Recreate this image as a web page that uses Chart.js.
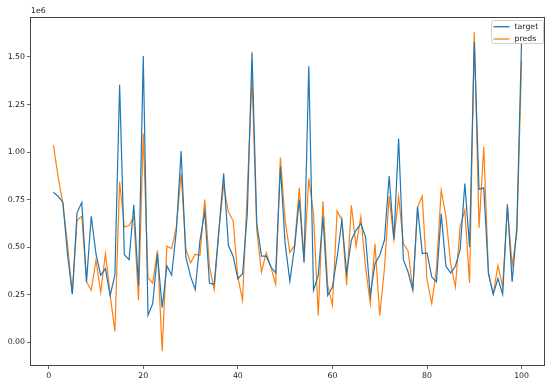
<!DOCTYPE html>
<html lang="en">
  <head>
    <meta charset="UTF-8" />
    <title>target vs preds</title>
    <style>
      body { margin: 0; background: #fff; }
    </style>
  </head>
  <body>
    <canvas id="myChart" width="554" height="388"></canvas>

    <script src="https://cdn.jsdelivr.net/npm/chart.js@4/dist/chart.umd.min.js"></script>
    <script>
      const steps = [
        1, 2, 3, 4, 5, 6, 7, 8, 9, 10, 11, 12, 13, 14, 15, 16, 17, 18, 19, 20,
        21, 22, 23, 24, 25, 26, 27, 28, 29, 30, 31, 32, 33, 34, 35, 36, 37, 38, 39, 40,
        41, 42, 43, 44, 45, 46, 47, 48, 49, 50, 51, 52, 53, 54, 55, 56, 57, 58, 59, 60,
        61, 62, 63, 64, 65, 66, 67, 68, 69, 70, 71, 72, 73, 74, 75, 76, 77, 78, 79, 80,
        81, 82, 83, 84, 85, 86, 87, 88, 89, 90, 91, 92, 93, 94, 95, 96, 97, 98, 99, 100
      ];

      const target = [
        789000, 768000, 737000, 460000, 253000, 681000, 735000, 318000, 663000, 467000,
        353000, 388000, 247000, 353000, 1354000, 461000, 435000, 723000, 300000, 1505000,
        142000, 204000, 467000, 182000, 402000, 353000, 589000, 1005000, 449000, 347000,
        277000, 537000, 689000, 312000, 305000, 590000, 888000, 510000, 453000, 335000,
        361000, 677000, 1525000, 625000, 453000, 453000, 396000, 365000, 923000, 519000,
        321000, 502000, 751000, 419000, 1451000, 274000, 353000, 660000, 247000, 291000,
        449000, 642000, 365000, 537000, 589000, 625000, 554000, 247000, 414000, 458000,
        537000, 874000, 540000, 1072000, 435000, 370000, 274000, 712000, 467000, 470000,
        344000, 318000, 677000, 400000, 365000, 400000, 488000, 835000, 502000, 1580000,
        804000, 812000, 361000, 253000, 335000, 253000, 726000, 318000, 607000, 1593000
      ];

      const preds = [
        1037000, 870000, 730000, 510000, 256000, 642000, 663000, 318000, 274000, 432000,
        263000, 467000, 250000, 58000, 844000, 607000, 614000, 660000, 221000, 1098000,
        340000, 312000, 484000, -46000, 505000, 493000, 607000, 888000, 493000, 418000,
        463000, 458000, 751000, 400000, 277000, 590000, 826000, 686000, 639000, 344000,
        221000, 800000, 1393000, 589000, 370000, 472000, 396000, 304000, 972000, 642000,
        472000, 510000, 812000, 428000, 861000, 677000, 142000, 742000, 300000, 195000,
        691000, 642000, 300000, 721000, 505000, 660000, 396000, 204000, 519000, 142000,
        388000, 768000, 540000, 768000, 519000, 481000, 274000, 712000, 768000, 330000,
        204000, 388000, 800000, 663000, 414000, 291000, 607000, 695000, 312000, 1630000,
        602000, 1028000, 361000, 253000, 405000, 291000, 712000, 405000, 572000, 1480000
      ];

      const xTicks = [0, 20, 40, 60, 80, 100];
      const yTicks = [0, 250000, 500000, 750000, 1000000, 1250000, 1500000];

      const FONT = "DejaVu Sans";
      const TEXT = "#222";
      const FSIZE = 7.8;

      // box around the plot, the 1e6 offset text and the legend
      const framePlugin = {
        id: "frame",
        afterDraw(chart) {
          const ctx = chart.ctx;
          const a = chart.chartArea;
          ctx.save();
          ctx.strokeStyle = "#444";
          ctx.lineWidth = 1;
          ctx.strokeRect(a.left + 0.5, a.top + 0.5, a.right - a.left - 1, a.bottom - a.top - 1);

          ctx.fillStyle = TEXT;
          ctx.font = FSIZE + "px " + FONT;
          ctx.textAlign = "left";
          ctx.textBaseline = "bottom";
          ctx.fillText("1e6", a.left + 1, a.top - 2);

          // legend
          const sets = chart.data.datasets;
          const boxW = 52, boxH = 23;
          const bx = a.right - 2 - boxW, by = a.top + 3;
          ctx.beginPath();
          ctx.roundRect(bx + 0.5, by + 0.5, boxW, boxH, 2);
          ctx.fillStyle = "rgba(255,255,255,0.8)";
          ctx.fill();
          ctx.strokeStyle = "#d0d0d0";
          ctx.lineWidth = 1;
          ctx.stroke();
          ctx.textBaseline = "middle";
          sets.forEach((ds, i) => {
            const y = by + 6.7 + i * 12.3;
            ctx.strokeStyle = ds.borderColor;
            ctx.lineWidth = 1.3;
            ctx.beginPath();
            ctx.moveTo(bx + 2.5, y);
            ctx.lineTo(bx + 18.5, y);
            ctx.stroke();
            ctx.fillStyle = TEXT;
            ctx.fillText(ds.label, bx + 23.5, y);
          });
          ctx.restore();
        }
      };

      const ctx = document.getElementById("myChart").getContext("2d");
      const chart = new Chart(ctx, {
        type: "line",
        data: {
          datasets: [
            {
              label: "target",
              borderColor: "#1f77b4",
              backgroundColor: "#1f77b4",
              borderWidth: 1.2,
              pointRadius: 0,
              fill: false,
              data: steps.map((s, i) => ({ x: s, y: target[i] }))
            },
            {
              label: "preds",
              borderColor: "#ff7f0e",
              backgroundColor: "#ff7f0e",
              borderWidth: 1.2,
              pointRadius: 0,
              fill: false,
              data: steps.map((s, i) => ({ x: s, y: preds[i] }))
            }
          ]
        },
        options: {
          responsive: false,
          animation: false,
          layout: { padding: { top: 17, right: 9, left: 0, bottom: 0 } },
          plugins: {
            legend: { display: false },
            tooltip: { enabled: false }
          },
          scales: {
            x: {
              type: "linear",
              min: -3.95,
              max: 104.95,
              afterBuildTicks: scale => {
                scale.ticks = xTicks.map(v => ({ value: v }));
              },
              afterFit: scale => {
                scale.height = 22;
              },
              grid: {
                drawOnChartArea: false,
                drawTicks: true,
                tickLength: 3,
                tickWidth: 0.8,
                tickColor: "#444"
              },
              border: { display: false },
              ticks: {
                color: TEXT,
                font: { family: FONT, size: FSIZE },
                padding: 2,
                maxRotation: 0,
                callback: v => String(v)
              }
            },
            y: {
              type: "linear",
              min: -124000,
              max: 1710000,
              afterBuildTicks: scale => {
                scale.ticks = yTicks.map(v => ({ value: v }));
              },
              afterFit: scale => {
                scale.width = 30;
              },
              grid: {
                drawOnChartArea: false,
                drawTicks: true,
                tickLength: 3,
                tickWidth: 0.8,
                tickColor: "#444"
              },
              border: { display: false },
              ticks: {
                color: TEXT,
                font: { family: FONT, size: FSIZE },
                padding: 2,
                callback: v => (v / 1e6).toFixed(2)
              }
            }
          }
        },
        plugins: [framePlugin]
      });
    </script>
  </body>
</html>
